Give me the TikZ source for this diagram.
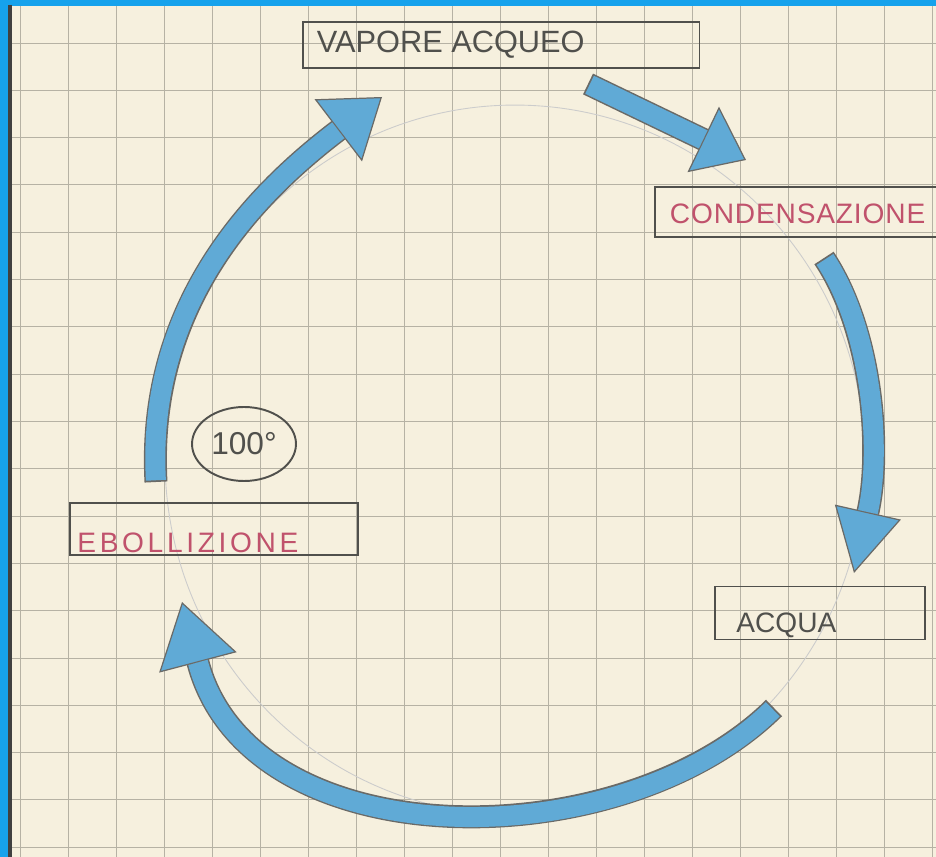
\documentclass[tikz,border=0pt]{standalone}
\usepackage{fontspec}
\usepackage{tikz}
\usetikzlibrary{arrows.meta,positioning,calc,shapes.geometric}
\usepackage{xcolor}
\newfontfamily\handfont{Liberation Sans}
\definecolor{paper}{RGB}{246,240,222}
\definecolor{pencil}{RGB}{80,80,76}
\definecolor{gridgray}{RGB}{182,178,164}
\definecolor{inkpink}{RGB}{192,82,108}
\definecolor{arrowblue}{RGB}{96,170,214}
\definecolor{frameblue}{RGB}{22,162,236}
\tikzset{
  boxed/.style={draw=pencil, line width=1.1pt, rectangle, inner sep=0pt},
  hand/.style={font=\handfont\fontsize{16}{16}\selectfont, inner sep=0pt, text=pencil},
  flowline/.style 2 args={line width=0.46cm, draw=pencil!85,
    -{Triangle[length=#1, width=#2, fill=arrowblue, line width=0.7pt]}},
  flowfill/.style={line width=0.40cm, draw=arrowblue, shorten >=#1, shorten <=1pt}
}
\begin{document}
\begin{tikzpicture}[x=0.02cm, y=-0.02cm]
\useasboundingbox (0,0) rectangle (936,857);
\clip (0,0) rectangle (936,857);
\fill[paper] (0,0) rectangle (936,857);
% squared paper
\foreach \gx in {0,...,19} \draw[gridgray, line width=0.45pt] ({20+48*\gx},0) -- ++(0,857);
\foreach \gy in {0,...,17} \draw[gridgray, line width=0.45pt] (0,{43+47.3*\gy}) -- ++(936,0);
% faint guide circle
\draw[gray!40, line width=0.5pt] (515,460) ellipse [x radius=7cm, y radius=7.1cm];
% boxes and labels
\node[boxed, minimum width=7.94cm, minimum height=0.92cm] (vapbox) at (501,45) {};
\node[hand, anchor=west, font=\handfont\fontsize{17.5}{17.5}\selectfont] (vap) at ([xshift=0.3cm]vapbox.west) {VAPORE ACQUEO};
\node[boxed, minimum width=6.1cm, minimum height=1cm] (conbox) at (807,212) {};
\node[hand, anchor=west, text=inkpink, font=\handfont\fontsize{16}{16}\selectfont\addfontfeature{LetterSpace=3}] (con) at ([xshift=0.32cm, yshift=-0.04cm]conbox.west) {CONDENSAZIONE};
\node[boxed, minimum width=5.76cm, minimum height=1.04cm] (ebobox) at (214,529) {};
\node[hand, anchor=west, text=inkpink, font=\handfont\fontsize{16}{16}\selectfont\addfontfeature{LetterSpace=13}] (ebo) at ([xshift=0.16cm, yshift=-0.28cm]ebobox.west) {EBOLLIZIONE};
\node[boxed, minimum width=4.2cm, minimum height=1.06cm] (acqbox) at (820,613) {};
\node[hand, anchor=west] (acq) at ([xshift=0.44cm, yshift=-0.24cm]acqbox.west) {ACQUA};
\node[ellipse, draw=pencil, line width=1.1pt, minimum width=2.08cm, minimum height=1.48cm, inner sep=0pt,
      font=\handfont\fontsize{18}{18}\selectfont, text=pencil] (temp) at (244,444) {100°};
% arrow ends
\coordinate (ebo-up) at (156,482);
\coordinate (vap-in) at (382,97);
\coordinate (vap-out) at (588,84);
\coordinate (con-in) at (746,160);
\coordinate (con-out) at (824,258);
\coordinate (acq-in) at (854,573);
\coordinate (acq-out) at (774,708);
\coordinate (ebo-in) at (182,602);
% blue arrows
\draw[flowline={1.1cm}{1.56cm}] (ebo-up) .. controls (146,300) and (260,190) .. (vap-in);
\draw[flowfill=1.1cm] (ebo-up) .. controls (146,300) and (260,190) .. (vap-in);
\draw[flowline={0.95cm}{1.45cm}] (vap-out) -- (con-in);
\draw[flowfill=0.95cm] (vap-out) -- (con-in);
\draw[flowline={1.25cm}{1.35cm}] (con-out) .. controls (872,330) and (882,450) .. (acq-in);
\draw[flowfill=1.25cm] (con-out) .. controls (872,330) and (882,450) .. (acq-in);
\draw[flowline={1.25cm}{1.6cm}] (acq-out) .. controls (620,860) and (250,860) .. (ebo-in);
\draw[flowfill=1.25cm] (acq-out) .. controls (620,860) and (250,860) .. (ebo-in);
% page edge
\fill[frameblue] (0,0) rectangle (936,6);
\fill[frameblue] (0,0) rectangle (8,857);
\draw[black!75, line width=2pt] (10,5) -- (10,857);
\end{tikzpicture}
\end{document}
